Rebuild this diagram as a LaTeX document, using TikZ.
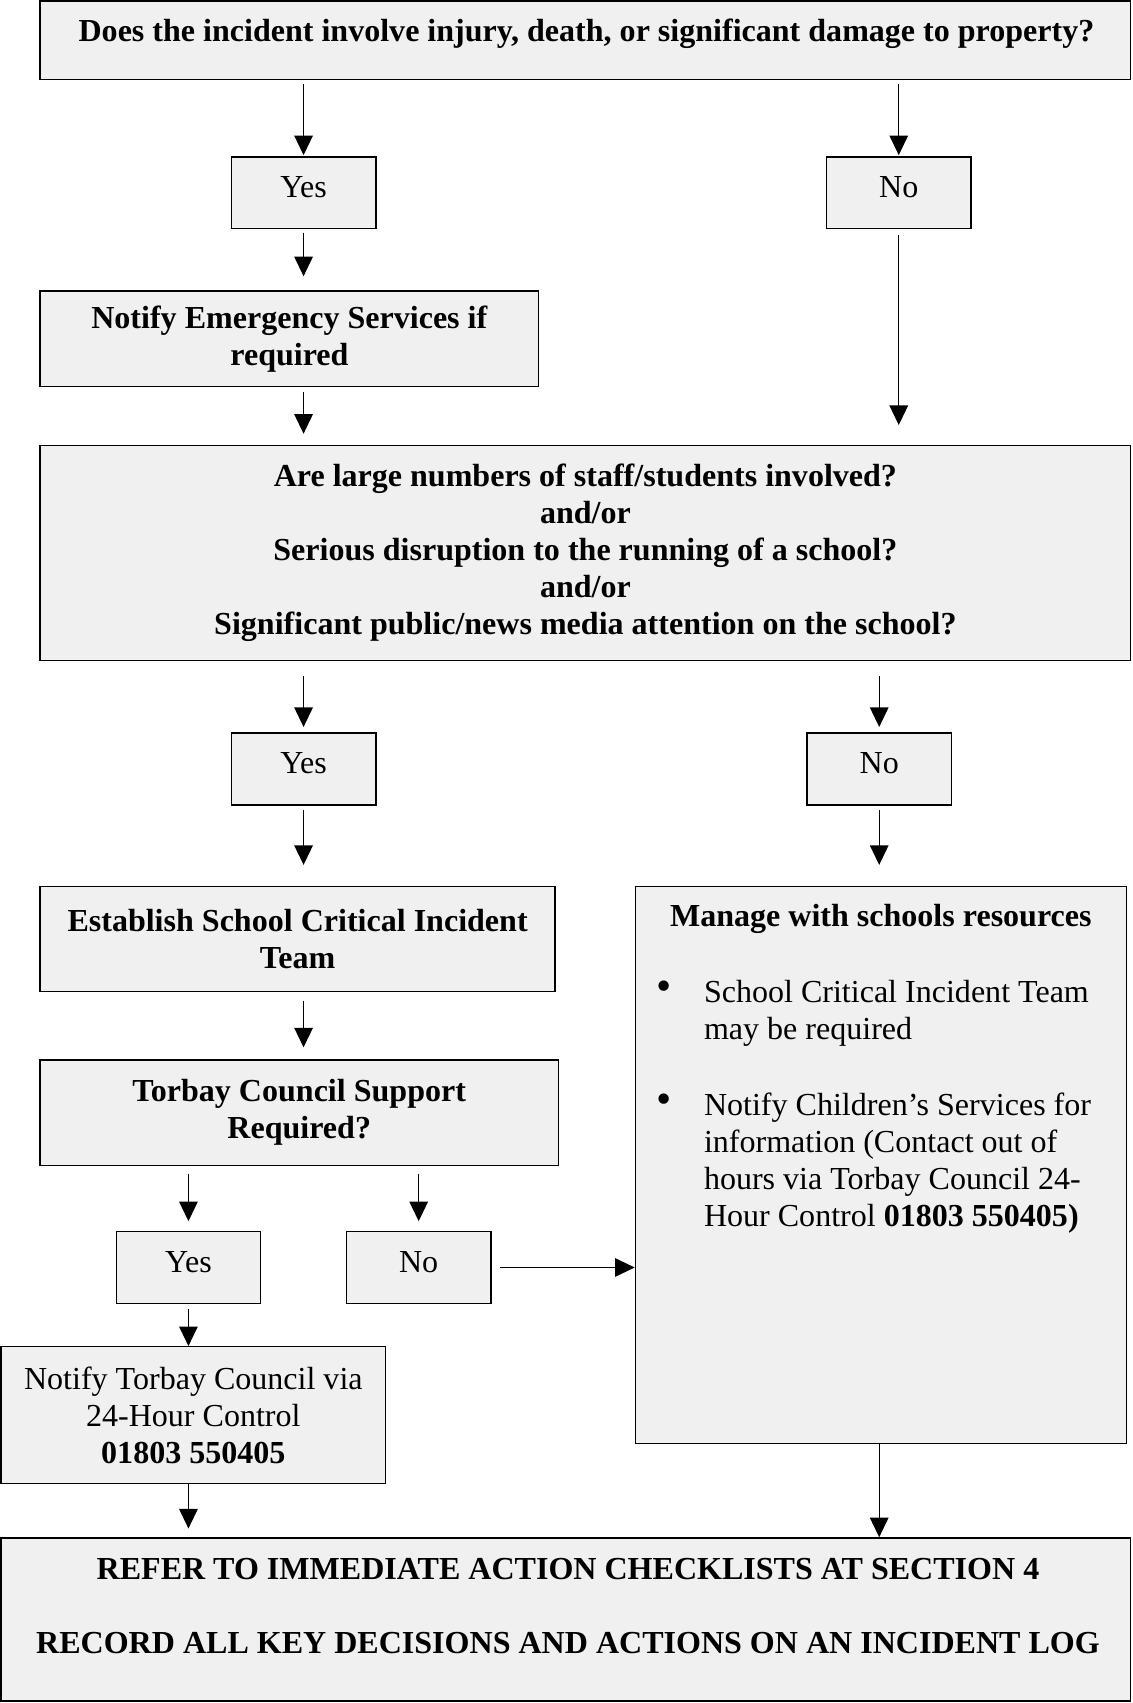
\documentclass[tikz,border=0pt]{standalone}
\usepackage{fontspec}
\setmainfont{Liberation Serif}
\usetikzlibrary{arrows.meta}
\definecolor{boxfill}{RGB}{239,240,239}
\newcommand\diagfont{\fontsize{29.5}{34}\selectfont}
\begin{document}
\begin{tikzpicture}[x=1pt,y=-1pt,
  box/.style={draw=black,line width=1.3pt,fill=boxfill,inner sep=0pt,align=center,font=\diagfont},
  yn/.style={box,minimum width=133pt,minimum height=66pt,text height=20pt,text depth=11.6pt},
  txt/.style={inner sep=0pt,font=\diagfont},
  bul/.style={inner sep=0pt,font=\fontsize{40}{40}\selectfont},
  arr/.style={line width=1.3pt,-{Triangle[length=18pt,width=17pt]}}]
\useasboundingbox (0,0) rectangle (1043,1568);
% boxes
\node[box,minimum width=1004pt,minimum height=72pt] (q1) at (539,37) {};
\node[txt] (q1t) at (540,31) {\textbf{Does the incident involve injury, death, or significant damage to property?}};
\node[yn] (yes1) at (279.5,177.5) {Yes};
\node[yn] (no1) at (827.5,177.5) {No};
\node[box,minimum width=459pt,minimum height=88pt] (notify) at (266.5,312) {\textbf{Notify Emergency Services if}\\\textbf{required}};
\node[box,minimum width=1004pt,minimum height=198pt] (q2) at (539,509) {\textbf{Are large numbers of staff/students involved?}\\\textbf{and/or}\\\textbf{Serious disruption to the running of a school?}\\\textbf{and/or}\\\textbf{Significant public/news media attention on the school?}};
\node[yn] (yes2) at (279.5,708) {Yes};
\node[yn] (no2) at (809.5,708) {No};
\node[box,minimum width=474pt,minimum height=97pt] (establish) at (274,864.5) {\textbf{Establish School Critical Incident}\\\textbf{Team}};
\node[box,minimum width=452pt,minimum height=513pt] (manage) at (811,1072.5) {};
\node[txt] (managet) at (811,846) {\textbf{Manage with schools resources}};
\node[bul] (bul1) at (611,912) {•};
\node[txt,anchor=west,align=left] (b1t) at (648,933) {School Critical Incident Team\\may be required};
\node[bul] (bul2) at (611,1016) {•};
\node[txt,anchor=west,align=left] (b2t) at (648,1071) {Notify Children’s Services for\\information (Contact out of\\hours via Torbay Council 24-\\Hour Control \textbf{01803 550405)}};
\node[box,minimum width=477pt,minimum height=97pt] (torbay) at (275.5,1024.5) {\textbf{Torbay Council Support}\\\textbf{Required?}};
\node[yn] (yes3) at (173.5,1167) {Yes};
\node[yn] (no3) at (385.5,1167) {No};
\node[box,minimum width=354pt,minimum height=126pt] (notify2) at (178,1303) {Notify Torbay Council via\\24-Hour Control\\\textbf{01803 550405}};
\node[box,minimum width=1040pt,minimum height=150pt] (final) at (521,1491) {};
\node[txt,align=center] (finalt) at (523,1479) {\textbf{REFER TO IMMEDIATE ACTION CHECKLISTS AT SECTION 4}\\[34pt]\textbf{RECORD ALL KEY DECISIONS AND ACTIONS ON AN INCIDENT LOG}};
% arrows
\draw[arr,shorten <=4pt,shorten >=1pt] (q1.south -| yes1.north) -- (yes1.north);
\draw[arr,shorten <=4pt,shorten >=1pt] (q1.south -| no1.north) -- (no1.north);
\draw[arr,shorten <=3pt,shorten >=13pt] (yes1.south) -- (notify.north -| yes1.south);
\draw[arr,shorten <=5pt,shorten >=18pt] (no1.south) -- (q2.north -| no1.south);
\draw[arr,shorten <=4pt,shorten >=10pt] (notify.south -| yes2.north) -- (q2.north -| yes2.north);
\draw[arr,shorten <=14pt,shorten >=5pt] (q2.south -| yes2.north) -- (yes2.north);
\draw[arr,shorten <=14pt,shorten >=5pt] (q2.south -| no2.north) -- (no2.north);
\draw[arr,shorten <=4pt,shorten >=19pt] (yes2.south) -- (establish.north -| yes2.south);
\draw[arr,shorten <=4pt,shorten >=19pt] (no2.south) -- (manage.north -| no2.south);
\draw[arr,shorten <=8pt,shorten >=11pt] (establish.south -| yes2.south) -- (torbay.north -| yes2.south);
\draw[arr,shorten <=7pt,shorten >=9pt] (torbay.south -| yes3.north) -- (yes3.north);
\draw[arr,shorten <=7pt,shorten >=9pt] (torbay.south -| no3.north) -- (no3.north);
\draw[arr,shorten <=8pt] (no3.east) -- (no3.east -| manage.west);
\draw[arr,shorten <=5pt] (yes3.south) -- (notify2.north -| yes3.south);
\draw[arr,shorten >=8pt] (notify2.south -| yes3.south) -- (final.north -| yes3.south);
\draw[arr] (manage.south -| no2.south) -- (final.north -| no2.south);
\end{tikzpicture}
\end{document}
